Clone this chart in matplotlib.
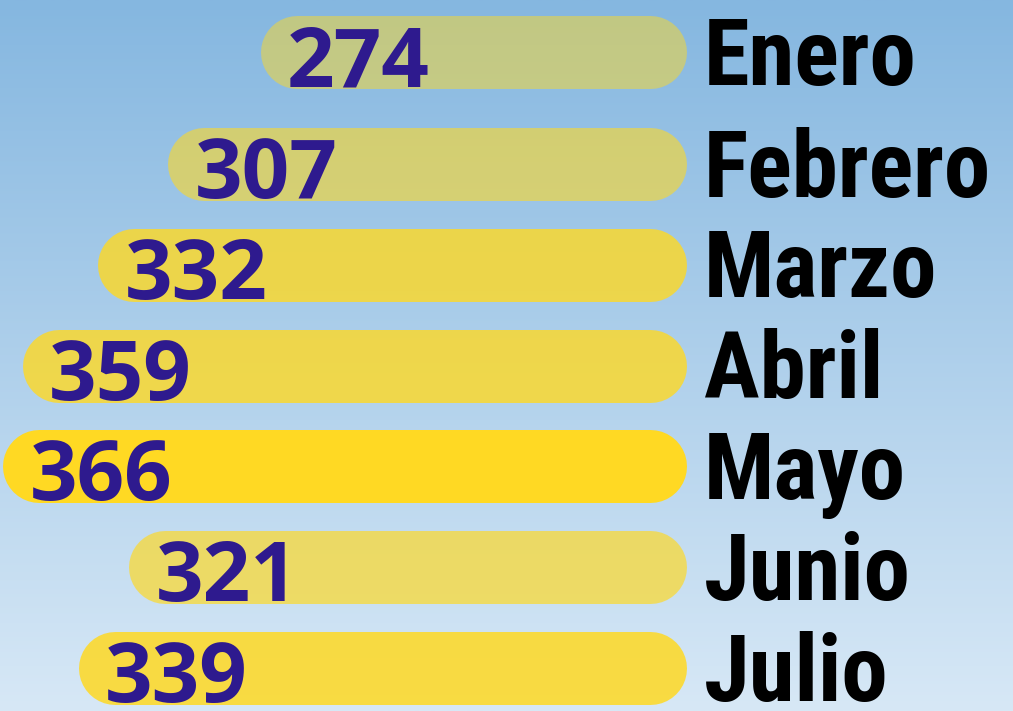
import numpy as np
import matplotlib
matplotlib.use("Agg")
import matplotlib.pyplot as plt
from matplotlib import font_manager as fm

# ---- data ----
months = ["Enero", "Febrero", "Marzo", "Abril", "Mayo", "Junio", "Julio"]
values = [274, 307, 332, 359, 366, 321, 339]

# ---- layout / style ----
W, H, DPI = 1013, 711, 100
BASE = 148.0          # value at the bar's right (rounded) end
SCALE = 2.8           # pixels per unit
RIGHT_PX = 649.5      # pixel of BASE (centre of right cap)
BAR_PX = 73           # bar thickness in pixels
ROW_PX = 100.8        # spacing between rows in pixels
FIRST_ROW_PX = 164    # pixel centre of row index 1
bar_color = "#FFD923"
bar_alpha = [0.49, 0.59, 0.80, 0.80, 1.0, 0.68, 0.85]
value_color = "#2E1A8E"

def pick_font(cands):
    for c in cands:
        try:
            fm.findfont(fm.FontProperties(family=c), fallback_to_default=False)
            return c
        except Exception:
            pass
    return "DejaVu Sans"

label_font = pick_font(["Liberation Sans Narrow", "Roboto Condensed", "Lato"])
value_font = pick_font(["Open Sans", "Noto Sans"])

fig = plt.figure(figsize=(W / DPI, H / DPI), dpi=DPI)
ax = fig.add_axes([0, 0, 1, 1])
ax.set_axis_off()

# x: inverted so bars grow leftwards from BASE
x_left = BASE + RIGHT_PX / SCALE
x_right = BASE - (W - RIGHT_PX) / SCALE
ax.set_xlim(x_left, x_right)

# y: category index, first row slightly separated
y_top = 1 - FIRST_ROW_PX / ROW_PX
y_bot = 1 + (H - FIRST_ROW_PX) / ROW_PX
ax.set_ylim(y_bot, y_top)
y_pos = np.arange(len(months), dtype=float)
y_pos[0] -= 0.11

# background gradient
top = np.array([133, 183, 224]) / 255
bot = np.array([215, 232, 246]) / 255
t = np.linspace(0, 1, 256)[:, None]
grad = (top[None, :] * (1 - t) + bot[None, :] * t)[:, None, :]
ax.imshow(grad, extent=[0, 1, 0, 1], transform=ax.transAxes,
          aspect="auto", zorder=0, origin="upper")

lw_pt = BAR_PX * 72 / DPI
for m, v, y, a in zip(months, values, y_pos, bar_alpha):
    ax.plot([BASE, v], [y, y], color=bar_color, alpha=a, lw=lw_pt,
            solid_capstyle="round", zorder=2)
    # value label near left end of bar
    ax.annotate(str(v), xy=(v, y), xytext=(-7, -24.5), textcoords="offset points",
                ha="left", va="baseline", fontsize=60, fontweight="bold",
                color=value_color, family=value_font, zorder=3)
    # month label to the right of bar
    ax.annotate(m, xy=(BASE, y), xytext=(39, -23.5), textcoords="offset points",
                ha="left", va="baseline", fontsize=67, fontweight="bold",
                color="black", family=label_font, zorder=3)

fig.savefig("out.png", dpi=DPI)
